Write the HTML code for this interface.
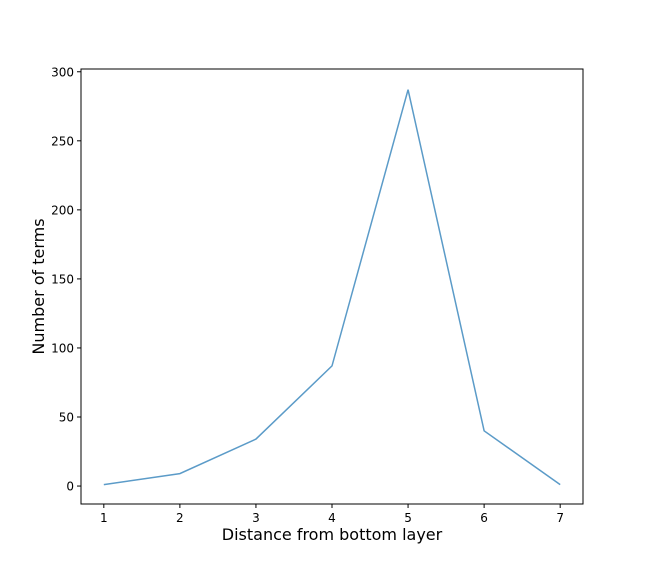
<!DOCTYPE html>
<html><head><meta charset="utf-8"><style>body{margin:0;background:#fff}svg{display:block}text{font-family:"DejaVu Sans","Liberation Sans",sans-serif}</style></head>
<body>
<svg id="chart" width="648" height="576"></svg>
<script>
const categories=[1,2,3,4,5,6,7];
const values=[1,9,34,87,287,40,1];
const yTicks=[0,50,100,150,200,250,300];
const L=81,R=583,T=69,B=504;
const xMin=0.7,xMax=7.3,yMin=-13,yMax=302;
const sx=v=>L+(v-xMin)/(xMax-xMin)*(R-L);
const sy=v=>B-(v-yMin)/(yMax-yMin)*(B-T);
const svg=document.getElementById('chart');
const NS='http://www.w3.org/2000/svg';
function mk(t,a,p){const e=document.createElementNS(NS,t);for(const k in a)e.setAttribute(k,a[k]);(p||svg).appendChild(e);return e;}
const frame=mk('rect',{x:L,y:T,width:R-L,height:B-T,fill:'none',stroke:'#000','stroke-width':1});


categories.forEach(c=>{
  const x=sx(c);
  const tk=mk('line',{x1:x,x2:x,y1:B,y2:B+4,stroke:'#000'});
  
  
  const t=mk('text',{x:x,y:B+18,'text-anchor':'middle','font-size':12});
  t.textContent=c;
  
  
});
yTicks.forEach(v=>{
  const y=sy(v);
  const tk=mk('line',{x1:L-4,x2:L,y1:y,y2:y,stroke:'#000'});
  
  
  const t=mk('text',{x:L-7,y:y+4.5,'text-anchor':'end','font-size':12});
  t.textContent=v;
  
  
});
const pts=categories.map((c,i)=>sx(c)+','+sy(values[i])).join(' ');
const line=mk('polyline',{points:pts,fill:'none',stroke:'#5b9bc8','stroke-width':1.5});


const xt=mk('text',{x:(L+R)/2,y:540,'text-anchor':'middle','font-size':16});
xt.textContent='Distance from bottom layer';


const yt=mk('text',{x:0,y:0,'text-anchor':'middle','font-size':16,transform:'translate(44,'+((T+B)/2)+') rotate(-90)'});
yt.textContent='Number of terms';


</script>
</body></html>
